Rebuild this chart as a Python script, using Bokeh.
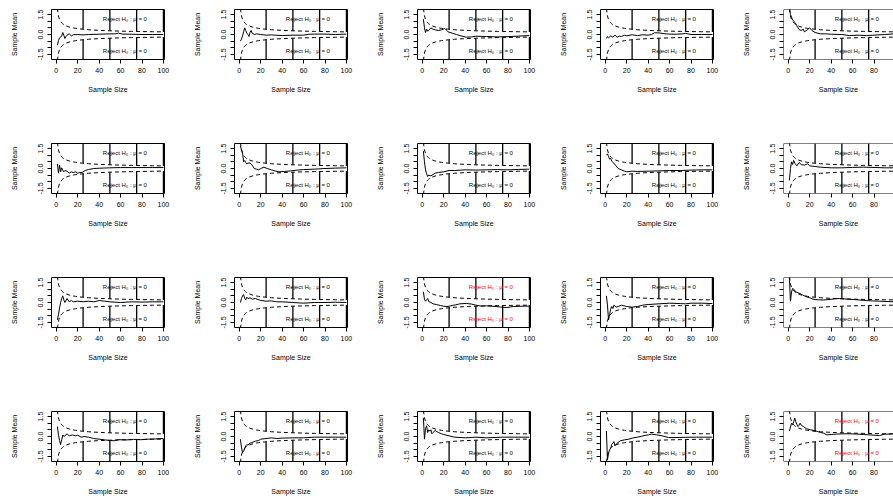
from bokeh.plotting import figure
from bokeh.layouts import gridplot
from bokeh.models import Span, FixedTicker
from bokeh.core.properties import value
from bokeh.embed import file_html
from bokeh.resources import INLINE

FONT = "Liberation Sans"

# ---------------- data ----------------
x_ticks = [0, 20, 40, 60, 80, 100]
y_ticks = [-1.5, -1.0, -0.5, 0.0, 0.5, 1.0, 1.5]
y_tick_labels = {-1.5: "-1.5", -1.0: "", -0.5: "", 0.0: "0.0", 0.5: "", 1.0: "", 1.5: "1.5"}
x_label = "Sample Size"
y_label = "Sample Mean"
reject_label = "Reject H\u2080 : \u03bc = 0"
checkpoints = [25, 50, 75, 100]

# rejection boundary (critical sample mean) at selected sample sizes
bound_n = [1, 2, 3, 4, 5, 6, 7, 8, 9, 10, 12, 14, 16, 18, 20, 25, 30, 35, 40, 45, 50, 60, 70, 75, 80, 90, 100]
bound_v = [1.96, 1.386, 1.132, 0.98, 0.877, 0.8, 0.741, 0.693, 0.653, 0.62, 0.566, 0.524, 0.49, 0.462, 0.438,
           0.392, 0.358, 0.331, 0.31, 0.292, 0.277, 0.253, 0.234, 0.226, 0.219, 0.207, 0.196]

n_p01 = [1, 2, 3, 4, 5, 6, 7, 8, 9, 10, 12, 14, 16, 20, 25, 30, 40, 50, 55, 58, 62, 70, 80, 90, 100]
m_p01 = [-0.8, -0.45, -0.25, -0.2, -0.1, 0.15, -0.05, -0.3, -0.15, -0.05, 0.05, -0.1, -0.02, 0.0, -0.03, 0.0, 0.02, 0.05, 0.05, 0.1, 0.03, 0.02, 0.0, 0.0, 0.0]
n_p02 = [1, 2, 3, 4, 5, 6, 7, 8, 9, 10, 11, 12, 14, 16, 20, 25, 30, 40, 50, 60, 65, 70, 80, 90, 100]
m_p02 = [-0.5, -0.35, -0.1, 0.2, 0.5, 0.3, 0.1, 0.0, -0.15, 0.15, 0.3, 0.1, 0.0, 0.05, 0.0, -0.05, -0.03, -0.08, -0.05, -0.05, 0.02, 0.03, 0.03, 0.0, 0.03]
n_p03 = [1, 2, 3, 4, 5, 6, 8, 10, 12, 15, 18, 21, 24, 28, 32, 36, 41, 46, 50, 60, 70, 80, 90, 100]
m_p03 = [1.15, 0.5, 0.15, 0.4, 0.25, 0.3, 0.5, 0.4, 0.35, 0.3, 0.35, 0.45, 0.2, 0.1, 0.0, -0.1, -0.2, -0.18, -0.13, -0.15, -0.18, -0.16, -0.12, -0.08]
n_p04 = [1, 2, 3, 5, 7, 9, 11, 13, 15, 18, 20, 25, 30, 35, 40, 43, 46, 50, 56, 60, 66, 72, 75, 80, 90, 100]
m_p04 = [-0.3, -0.15, -0.25, -0.1, -0.2, -0.05, -0.2, -0.12, -0.15, -0.05, -0.1, -0.02, -0.08, -0.02, -0.05, 0.0, 0.13, 0.12, 0.05, 0.03, 0.02, 0.05, 0.08, 0.0, 0.0, 0.0]
n_p05 = [1, 2, 3, 4, 5, 6, 7, 8, 10, 12, 14, 15, 17, 20, 22, 25, 30, 35, 40, 50, 57, 65, 73, 80, 90, 100]
m_p05 = [2.0, 1.5, 1.3, 1.1, 1.0, 0.9, 0.8, 0.65, 0.38, 0.3, 0.4, 0.2, 0.3, 0.5, 0.3, 0.15, 0.05, 0.05, 0.02, 0.0, -0.08, -0.05, -0.08, -0.05, 0.0, 0.05]
n_p06 = [1, 2, 3, 4, 5, 6, 7, 8, 10, 12, 14, 16, 18, 20, 22, 24, 27, 30, 35, 40, 50, 60, 70, 80, 90, 100]
m_p06 = [0.35, -0.35, 0.25, -0.25, 0.05, -0.1, -0.25, -0.15, -0.2, -0.35, -0.25, -0.3, -0.25, -0.35, -0.3, -0.3, -0.15, -0.08, 0.0, 0.02, 0.05, 0.07, 0.07, 0.07, 0.07, 0.07]
n_p07 = [1, 2, 3, 4, 5, 6, 7, 8, 10, 12, 14, 16, 18, 20, 23, 26, 30, 34, 37, 42, 48, 54, 60, 70, 80, 90, 100]
m_p07 = [1.7, 1.4, 1.2, 0.5, 0.6, 0.45, 0.35, 0.4, 0.42, 0.25, 0.0, -0.05, -0.1, 0.0, 0.1, 0.0, -0.1, -0.2, -0.25, -0.22, -0.18, -0.12, -0.08, -0.05, 0.0, 0.03, 0.05]
n_p08 = [1, 2, 3, 4, 5, 6, 8, 10, 12, 15, 20, 25, 30, 40, 50, 60, 70, 80, 90, 100]
m_p08 = [1.3, 0.5, -0.1, -0.4, -0.6, -0.5, -0.55, -0.45, -0.35, -0.3, -0.25, -0.15, -0.15, -0.1, -0.12, -0.1, -0.08, -0.1, -0.07, -0.05]
n_p09 = [1, 2, 3, 4, 5, 6, 8, 10, 12, 15, 18, 20, 25, 30, 40, 50, 60, 70, 80, 90, 100]
m_p09 = [1.0, 1.1, 0.9, 0.7, 0.75, 0.55, 0.4, 0.2, 0.0, -0.1, -0.2, -0.25, -0.2, -0.22, -0.2, -0.18, -0.15, -0.15, -0.12, -0.1, -0.1]
n_p10 = [1, 2, 3, 4, 5, 6, 8, 10, 12, 15, 18, 20, 25, 30, 40, 50, 60, 70, 80, 90, 100]
m_p10 = [-0.9, 0.0, 0.5, 0.3, 0.6, 0.4, 0.2, 0.45, 0.3, 0.25, 0.35, 0.2, 0.15, 0.1, 0.05, 0.05, 0.08, 0.1, 0.08, 0.05, 0.05]
n_p11 = [1, 2, 3, 4, 5, 6, 7, 8, 10, 12, 14, 16, 20, 25, 30, 35, 40, 45, 50, 60, 70, 80, 90, 100]
m_p11 = [-1.3, -0.9, -0.4, 0.0, 0.3, 0.5, 0.2, 0.0, 0.3, 0.05, 0.15, 0.05, 0.1, 0.05, 0.1, 0.05, 0.15, 0.1, 0.05, 0.0, 0.05, 0.03, 0.05, 0.05]
n_p12 = [1, 2, 3, 4, 5, 6, 7, 8, 10, 12, 15, 20, 25, 30, 35, 40, 50, 60, 70, 80, 90, 100]
m_p12 = [0.0, 0.3, 0.5, 0.6, 0.3, 0.2, 0.4, 0.3, 0.35, 0.25, 0.3, 0.15, 0.1, 0.12, 0.05, 0.05, 0.0, -0.05, 0.0, 0.0, 0.02, 0.0]
n_p13 = [1, 2, 3, 4, 5, 6, 8, 10, 13, 17, 20, 24, 28, 31, 35, 41, 46, 50, 55, 60, 66, 73, 79, 85, 92, 100]
m_p13 = [0.8, 0.25, 0.1, 0.2, 0.3, 0.07, 0.0, -0.1, -0.15, -0.23, -0.28, -0.3, -0.22, -0.18, -0.1, -0.07, -0.12, -0.2, -0.27, -0.25, -0.28, -0.34, -0.38, -0.3, -0.28, -0.27]
n_p14 = [1, 2, 3, 4, 5, 6, 7, 8, 10, 12, 15, 20, 25, 30, 35, 40, 50, 60, 70, 75, 80, 90, 100]
m_p14 = [0.5, -0.2, -1.3, -0.9, -0.5, -0.3, -0.45, -0.2, -0.35, -0.3, -0.2, -0.3, -0.35, -0.3, -0.2, -0.15, -0.1, -0.05, -0.08, -0.1, -0.05, -0.05, -0.08]
n_p15 = [1, 2, 3, 4, 5, 7, 10, 13, 16, 20, 24, 28, 33, 39, 44, 48, 55, 62, 70, 78, 85, 93, 100]
m_p15 = [1.85, 0.1, 0.8, 1.05, 1.0, 0.8, 0.7, 0.58, 0.46, 0.35, 0.23, 0.2, 0.19, 0.23, 0.28, 0.3, 0.25, 0.22, 0.16, 0.12, 0.1, 0.07, 0.06]
n_p16 = [1, 2, 3, 4, 5, 6, 7, 8, 10, 12, 15, 18, 20, 23, 26, 30, 35, 40, 45, 50, 54, 58, 65, 72, 79, 86, 93, 100]
m_p16 = [0.75, 0.12, -0.3, -0.6, -0.25, 0.12, 0.0, 0.05, 0.2, 0.05, 0.12, 0.05, 0.1, -0.05, 0.0, -0.05, -0.15, -0.2, -0.25, -0.3, -0.32, -0.24, -0.26, -0.22, -0.24, -0.2, -0.18, -0.15]
n_p17 = [1, 2, 3, 4, 5, 6, 7, 8, 10, 12, 15, 18, 20, 25, 30, 35, 40, 50, 60, 70, 80, 90, 100]
m_p17 = [-0.2, -0.8, -1.2, -1.1, -0.9, -0.7, -0.6, -0.65, -0.5, -0.45, -0.35, -0.3, -0.2, -0.15, -0.1, -0.15, -0.12, -0.1, -0.1, -0.05, -0.05, -0.05, -0.05]
n_p18 = [1, 2, 3, 4, 5, 6, 7, 8, 9, 10, 12, 15, 18, 20, 25, 30, 40, 50, 60, 75, 90, 100]
m_p18 = [1.4, -0.2, 0.6, 0.8, 0.3, 0.5, 0.4, 0.5, 0.2, 0.3, 0.45, 0.3, 0.2, 0.15, 0.05, -0.05, -0.1, -0.05, -0.1, -0.05, -0.05, -0.05]
n_p19 = [1, 2, 3, 4, 5, 6, 7, 8, 9, 11, 14, 18, 22, 25, 30, 34, 37, 40, 43, 48, 53, 59, 65, 75, 85, 100]
m_p19 = [0.42, -1.75, -1.25, -1.0, -0.88, -0.6, -0.5, -0.38, -0.7, -0.5, -0.32, -0.25, -0.2, -0.12, -0.05, 0.02, 0.08, 0.12, 0.18, 0.12, 0.05, -0.08, -0.08, -0.06, -0.05, -0.05]
n_p20 = [1, 2, 3, 4, 5, 6, 7, 8, 9, 10, 11, 12, 14, 17, 21, 24, 27, 30, 33, 36, 40, 45, 51, 58, 65, 70, 76, 80, 85, 90, 94, 100]
m_p20 = [0.4, 0.7, 1.0, 0.88, 1.1, 1.38, 1.1, 0.9, 0.75, 0.85, 1.0, 0.85, 0.75, 0.58, 0.5, 0.45, 0.38, 0.3, 0.25, 0.12, 0.15, 0.18, 0.2, 0.2, 0.18, 0.15, 0.12, 0.1, 0.07, 0.18, 0.18, 0.22]

panels = [
    (n_p01, m_p01), (n_p02, m_p02), (n_p03, m_p03), (n_p04, m_p04), (n_p05, m_p05),
    (n_p06, m_p06), (n_p07, m_p07), (n_p08, m_p08), (n_p09, m_p09), (n_p10, m_p10),
    (n_p11, m_p11), (n_p12, m_p12), (n_p13, m_p13), (n_p14, m_p14), (n_p15, m_p15),
    (n_p16, m_p16), (n_p17, m_p17), (n_p18, m_p18), (n_p19, m_p19), (n_p20, m_p20),
]

# ---------------- layout / style ----------------
X_START, X_END = -4.5, 101.0
Y_START, Y_END = -1.875, 1.875
TEXT_X, TEXT_Y = 64.0, 1.2
COL_W = [183, 183, 183, 183, 161]
ROW_H = [134, 134, 134, 98]
LEFT = 51
TOP = 9
FRAME_W = 113
FRAME_H = 50

bound_at = dict(zip(bound_n, bound_v))
lower_v = [-v for v in bound_v]
cp_up = [bound_at[c] for c in checkpoints]
cp_lo = [-bound_at[c] for c in checkpoints]

grid = []
for r in range(4):
    row = []
    for c in range(5):
        n, m = panels[r * 5 + c]
        w, h = COL_W[c], ROW_H[r]
        last = (c == 4)
        if last:
            x_end = X_START + (w - LEFT) * (X_END - X_START) / FRAME_W
            right = 0
        else:
            x_end = X_END
            right = w - LEFT - FRAME_W
        p = figure(width=w, height=h, x_range=(X_START, x_end), y_range=(Y_START, Y_END),
                   min_border_left=LEFT, min_border_right=right, min_border_top=TOP,
                   min_border_bottom=h - TOP - FRAME_H,
                   output_backend="svg", toolbar_location=None, tools="")
        p.background_fill_color = "white"
        p.border_fill_color = "white"
        p.xgrid.visible = False
        p.ygrid.visible = False
        if last:
            p.outline_line_color = None
            p.add_layout(Span(location=Y_START, dimension="width", line_color="black", line_width=1))
            p.add_layout(Span(location=Y_END, dimension="width", line_color="black", line_width=1))
            p.add_layout(Span(location=X_START, dimension="height", line_color="black", line_width=1))
        else:
            p.outline_line_color = "black"
            p.outline_line_width = 1
            p.outline_line_alpha = 1

        # boundaries
        p.line(bound_n, bound_v, line_color="black", line_width=1, line_dash="4 3")
        p.line(bound_n, lower_v, line_color="black", line_width=1, line_dash="4 3")
        # checkpoint rejection segments
        p.segment(x0=checkpoints, y0=cp_up, x1=checkpoints, y1=[Y_END] * len(checkpoints),
                  line_color="black", line_width=1.3)
        p.segment(x0=checkpoints, y0=cp_lo, x1=checkpoints, y1=[Y_START] * len(checkpoints),
                  line_color="black", line_width=1.3)
        # sample mean path
        p.line(n, m, line_color="black", line_width=1)

        reject = abs(m[-1]) > bound_v[-1]
        col = "#ff0000" if reject else "black"
        p.text(x=[TEXT_X, TEXT_X], y=[TEXT_Y, -TEXT_Y], text=[reject_label, reject_label],
               text_font=value(FONT), text_font_size="6px", text_align="center",
               text_baseline="middle", text_color=col)

        p.xaxis.ticker = FixedTicker(ticks=x_ticks)
        p.yaxis.ticker = FixedTicker(ticks=y_ticks)
        p.yaxis.major_label_overrides = y_tick_labels
        p.yaxis.major_label_orientation = "vertical"
        p.xaxis.axis_label = x_label
        p.yaxis.axis_label = y_label
        for ax in (p.xaxis, p.yaxis):
            ax.axis_line_color = None
            ax.major_tick_line_color = "black"
            ax.major_tick_out = 4
            ax.major_tick_in = 0
            ax.minor_tick_line_color = None
            ax.major_label_text_font = FONT
            ax.major_label_text_font_size = "7px"
            ax.major_label_text_color = "black"
            ax.axis_label_text_font = FONT
            ax.axis_label_text_font_size = "7px"
            ax.axis_label_text_font_style = "normal"
            ax.axis_label_text_color = "black"
        p.xaxis.major_label_standoff = 4
        p.xaxis.axis_label_standoff = 10
        p.yaxis.major_label_standoff = 5
        p.yaxis.axis_label_standoff = 17
        row.append(p)
    grid.append(row)

layout = gridplot(grid, toolbar_location=None)
open("out.html", "w").write(file_html(layout, INLINE))
